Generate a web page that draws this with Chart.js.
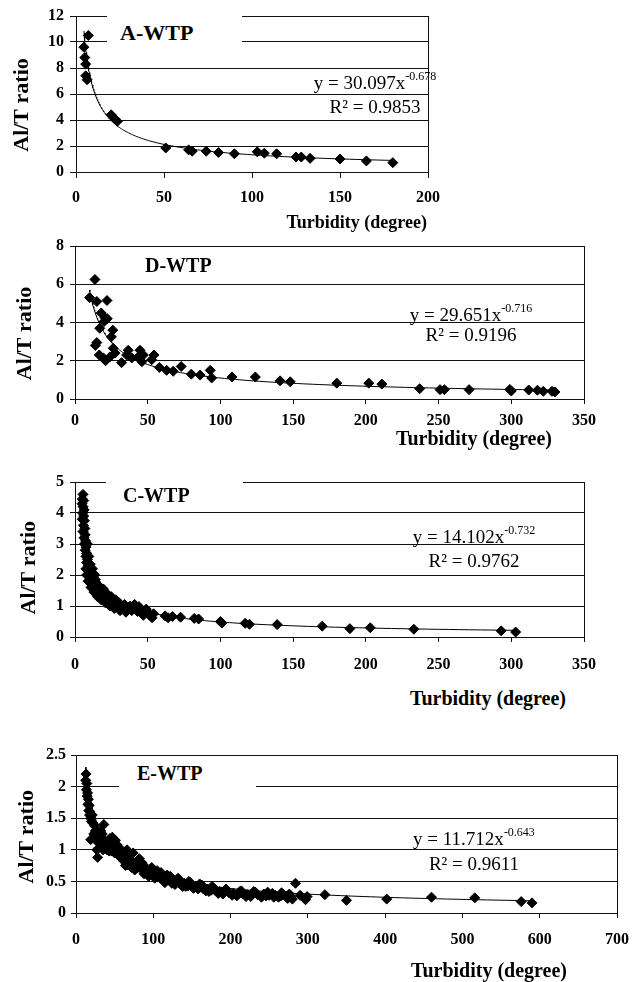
<!DOCTYPE html>
<html>
<head>
<meta charset="utf-8">
<script src="https://cdn.jsdelivr.net/npm/chart.js@4.4.1/dist/chart.umd.min.js"></script>
<style>
  html, body { margin: 0; padding: 0; background: #fff; }
  body { width: 641px; height: 982px; position: relative; overflow: hidden; color: #000; }
  canvas { position: absolute; left: 0; }
  .mask { position: absolute; background: #fff; }
  .note { position: absolute; white-space: nowrap; font-family: 'Liberation Serif', serif; }
  .note .sup { position: relative; top: -9px; font-size: 12px; }
</style>
</head>
<body>
<canvas id="chartA" width="641" height="215" style="top:0px"></canvas>
<canvas id="chartD" width="641" height="215" style="top:225px"></canvas>
<canvas id="chartC" width="641" height="225" style="top:460px"></canvas>
<canvas id="chartE" width="641" height="235" style="top:730px"></canvas>
<script>
// values
const plants = ['A-WTP', 'D-WTP', 'C-WTP', 'E-WTP'];
const fitCoef = [30.097, 29.651, 14.102, 11.712];
const fitExp = [-0.678, -0.716, -0.732, -0.643];
const rSquared = [0.9853, 0.9196, 0.9762, 0.9611];
const xMax = [200, 350, 350, 700];
const xStep = [50, 50, 50, 100];
const yMax = [12, 8, 5, 2.5];
const yStep = [2, 2, 1, 0.5];

const aTurbidity = [7, 4.5, 5, 5.5, 5.5, 6.3, 20, 22, 23.5, 51, 64, 66, 74, 81, 90, 103, 107, 114, 125, 128, 133, 150, 165, 180];
const aRatio = [10.5, 9.6, 8.8, 8.3, 7.4, 7.1, 4.4, 4.1, 3.9, 1.85, 1.7, 1.6, 1.6, 1.5, 1.4, 1.55, 1.45, 1.4, 1.15, 1.15, 1.05, 1.0, 0.85, 0.72];

const dTurbidity = [10, 13.7, 15, 22, 18, 20.6, 22.2, 20, 17, 26, 25, 15, 14, 16.7, 19.5, 21, 24, 26.3, 27.5, 32,
  36.6, 35.5, 39, 44.7, 47, 46, 43.5, 52.7, 54.3, 58, 63, 67.5, 73, 80, 86, 93, 94, 108, 124, 141,
  148, 180, 202, 211, 237, 251, 254, 271, 299, 300, 312, 318, 322, 328, 330];
const dRatio = [5.3, 6.25, 5.1, 5.15, 4.5, 4.25, 4.2, 4.05, 3.7, 3.6, 3.25, 2.95, 2.8, 2.3, 2.15, 2.0, 2.2, 2.65, 2.4, 1.9,
  2.55, 2.3, 2.15, 2.55, 2.3, 1.95, 2.2, 2.05, 2.3, 1.65, 1.5, 1.45, 1.7, 1.3, 1.25, 1.5, 1.1, 1.15, 1.15, 0.95,
  0.9, 0.83, 0.83, 0.78, 0.54, 0.49, 0.49, 0.49, 0.5, 0.42, 0.47, 0.46, 0.4, 0.4, 0.37];

const cTurbidity = [5.5, 5, 6, 4.8, 5.6, 6.3, 5.2, 6, 5, 6.5, 5.8, 6.8, 5.5, 7, 6.2, 7.3, 6.5, 7.6, 7, 8,
  7.5, 8.5, 8, 9.2, 8.8, 10, 9.5, 11, 10.5, 12, 11.5, 13.5, 13, 15, 14.5, 17, 16, 19, 18, 21,
  20, 23, 22.5, 25, 24.5, 27, 26, 29, 28.5, 31, 33, 32, 35, 36, 38, 40, 39, 42, 43, 45,
  46, 48, 50, 51, 52, 53,
  8, 12.5, 9, 14, 11, 16.5, 13, 19.5, 15.5, 22, 18, 25, 21, 28, 24, 30, 27, 34, 31, 37, 35, 41, 44, 47, 49, 54,
  8.5, 9.5, 10.5, 12, 13.5, 7.5,
  62, 64, 67, 72.6, 82, 85, 100, 101, 117, 120, 139, 170, 189, 203, 233, 293, 303];
const cRatio = [4.6, 4.45, 4.4, 4.3, 4.2, 4.1, 4.0, 3.9, 3.8, 3.75, 3.6, 3.5, 3.4, 3.3, 3.2, 3.1, 3.0, 2.9, 2.8, 2.7,
  2.6, 2.5, 2.4, 2.3, 2.2, 2.1, 2.0, 1.95, 1.85, 1.8, 1.7, 1.7, 1.6, 1.6, 1.5, 1.5, 1.42, 1.4, 1.32, 1.3,
  1.22, 1.25, 1.15, 1.18, 1.1, 1.12, 1.05, 1.05, 0.98, 1.0, 0.95, 0.9, 0.95, 0.88, 1.0, 0.92, 0.85, 0.95, 0.82, 0.88,
  0.75, 0.8, 0.78, 0.72, 0.68, 0.62,
  2.0, 2.05, 1.8, 1.85, 1.6, 1.65, 1.45, 1.55, 1.3, 1.4, 1.2, 1.3, 1.1, 1.2, 1.0, 1.12, 0.92, 1.05, 0.85, 0.95, 0.8, 1.05, 0.98, 0.7, 0.9, 0.75,
  3.0, 2.6, 2.35, 2.2, 2.0, 2.2,
  0.68, 0.62, 0.66, 0.64, 0.6, 0.58, 0.5, 0.45, 0.44, 0.41, 0.4, 0.35, 0.27, 0.3, 0.25, 0.2, 0.16];

const eTurbidity = [13, 12.5, 14, 13.5, 15, 14.5, 16, 15.5, 17, 16.5, 18, 17.5, 19, 20, 21, 22, 24, 19, 28, 27,
  23, 25, 26, 29, 30, 32, 34, 36, 37, 38, 40, 41, 43, 45, 47, 49, 50, 52, 54, 56,
  58, 60, 62, 65, 67, 70, 73, 75, 78, 80, 83, 86, 90, 93, 96, 100, 104, 108, 112, 116,
  120, 125, 130, 135, 140, 145, 150, 155, 160, 165, 170, 175, 180, 186, 192, 198, 204, 210, 216, 222,
  228, 235, 243, 250, 258, 265, 272, 278, 280, 284, 290, 297, 299, 322, 350, 402, 460, 516, 576, 590,
  63, 68, 72, 85, 88, 98, 102, 110, 115, 122, 128, 133, 142, 148, 158, 163, 172, 178, 190, 195,
  208, 212, 226, 232, 246, 254, 262, 268, 276, 44, 48, 51, 53, 46, 57, 59, 42, 35, 33,
  105, 110, 118, 124, 132, 138, 146, 152, 160, 168, 176, 184, 194, 202, 214, 220, 230, 240, 248, 256, 266, 274,
  64, 70, 76, 82, 88, 94, 66, 74];
const eRatio = [2.2, 2.1, 2.05, 1.95, 1.9, 1.85, 1.8, 1.72, 1.7, 1.62, 1.6, 1.55, 1.5, 1.45, 1.55, 1.42, 1.38, 1.16, 0.88, 1.0,
  1.25, 1.3, 1.15, 1.2, 1.1, 1.3, 1.25, 1.4, 1.15, 1.05, 1.0, 1.12, 0.98, 1.1, 1.2, 1.05, 0.95, 1.0, 0.92, 0.95,
  0.88, 0.85, 0.82, 0.88, 0.76, 0.8, 0.82, 0.75, 0.78, 0.72, 0.74, 0.68, 0.7, 0.64, 0.66, 0.6, 0.62, 0.56, 0.58, 0.52,
  0.54, 0.5, 0.5, 0.46, 0.47, 0.43, 0.44, 0.41, 0.41, 0.38, 0.38, 0.36, 0.36, 0.34, 0.33, 0.32, 0.31, 0.3, 0.3, 0.29,
  0.3, 0.29, 0.3, 0.28, 0.28, 0.27, 0.26, 0.26, 0.22, 0.47, 0.28, 0.21, 0.26, 0.29, 0.2, 0.22, 0.25, 0.24, 0.18, 0.16,
  0.95, 0.9, 0.72, 0.8, 0.62, 0.72, 0.55, 0.64, 0.48, 0.58, 0.45, 0.53, 0.42, 0.48, 0.38, 0.44, 0.34, 0.4, 0.3, 0.36,
  0.27, 0.34, 0.26, 0.33, 0.27, 0.31, 0.25, 0.3, 0.3, 1.18, 1.12, 1.15, 1.08, 0.98, 1.02, 0.95, 1.05, 1.0, 1.1,
  0.67, 0.55, 0.6, 0.47, 0.55, 0.42, 0.5, 0.39, 0.46, 0.35, 0.42, 0.31, 0.38, 0.28, 0.35, 0.26, 0.34, 0.25, 0.33, 0.25, 0.32, 0.23,
  0.75, 0.92, 0.68, 0.86, 0.75, 0.58, 1.0, 0.95];

const turbidity = [aTurbidity, dTurbidity, cTurbidity, eTurbidity];
const ratio = [aRatio, dRatio, cRatio, eRatio];

// page geometry of each panel (plot box, text spots)
const frames = [
  { canvas: 'chartA', top: 0, height: 215, left: 76, right: 428, plotTop: 16, plotBottom: 172,
    tick: 6, xPad: 10, yPad: 6, titlePad: 9, titleShift: 4,
    mask: [107, 9, 135, 39], label: [120, 40, 22], eq: [375, 89, 113], xTitle: [427, 228, 18] },
  { canvas: 'chartD', top: 225, height: 215, left: 75, right: 584, plotTop: 246, plotBottom: 399,
    tick: 5, xPad: 7, yPad: 6, titlePad: 12, titleShift: 4,
    mask: null, label: [145, 272, 20], eq: [471, 321, 341], xTitle: [552, 445, 20] },
  { canvas: 'chartC', top: 460, height: 225, left: 75, right: 584, plotTop: 482, plotBottom: 637,
    tick: 5, xPad: 13, yPad: 6, titlePad: 16, titleShift: 3,
    mask: [106, 476, 137, 28], label: [123, 502, 20], eq: [474, 543, 567], xTitle: [566, 705, 20] },
  { canvas: 'chartE', top: 730, height: 235, left: 76, right: 618, plotTop: 755, plotBottom: 913,
    tick: 5, xPad: 12, yPad: 5, titlePad: 14, titleShift: 1,
    mask: [119, 762, 137, 32], label: [137, 780, 20], eq: [474, 845, 870], xTitle: [567, 977, 20] },
];

Chart.defaults.font.family = "'Liberation Serif', serif";
Chart.defaults.color = '#000';

const lineColor = '#111';

function trendline(i) {
  const xs = turbidity[i];
  const lo = Math.min(...xs);
  const hi = Math.max(...xs);
  const pts = [];
  for (let k = 0; k <= 150; k++) {
    const x = lo * Math.pow(hi / lo, k / 150);
    pts.push({ x, y: fitCoef[i] * Math.pow(x, fitExp[i]) });
  }
  return pts;
}

function tickText(value) {
  return String(Number(value.toFixed(2)));
}

function drawPanel(i) {
  const f = frames[i];
  const points = turbidity[i].map((t, k) => ({ x: t, y: ratio[i][k] }));
  const tickFont = { size: 16, weight: 'bold' };

  return new Chart(document.getElementById(f.canvas), {
    type: 'scatter',
    data: {
      datasets: [
        {
          data: points,
          pointStyle: 'rectRot',
          pointRadius: 5,
          pointBorderWidth: 1,
          backgroundColor: '#000',
          borderColor: '#000',
        },
        {
          data: trendline(i),
          showLine: true,
          pointRadius: 0,
          borderColor: '#000',
          borderWidth: 1,
          fill: false,
        },
      ],
    },
    options: {
      responsive: false,
      animation: false,
      events: [],
      layout: { padding: { top: f.plotTop - f.top, right: 641 - f.right, left: 0, bottom: 0 } },
      plugins: { legend: { display: false }, tooltip: { enabled: false } },
      scales: {
        x: {
          type: 'linear',
          min: 0,
          max: xMax[i],
          afterFit: (scale) => { scale.height = f.top + f.height - f.plotBottom; },
          ticks: { stepSize: xStep[i], font: tickFont, color: '#000', padding: f.xPad, maxRotation: 0, callback: tickText },
          grid: {
            color: (ctx) => (ctx.tick && ctx.tick.value === xMax[i] ? lineColor : 'rgba(0,0,0,0)'),
            tickColor: lineColor,
            tickLength: f.tick,
          },
          border: { display: true, color: lineColor, width: 1 },
        },
        y: {
          type: 'linear',
          min: 0,
          max: yMax[i],
          afterFit: (scale) => { scale.width = f.left; },
          ticks: { stepSize: yStep[i], font: tickFont, color: '#000', padding: f.yPad, callback: tickText },
          grid: { color: lineColor, tickColor: lineColor, tickLength: f.tick },
          border: { display: true, color: lineColor, width: 1 },
          title: {
            display: true,
            text: 'Al/T ratio' + ' '.repeat(f.titleShift),
            font: { size: 22, weight: 'bold' },
            color: '#000',
            padding: { top: f.titlePad, bottom: 0 },
          },
        },
      },
    },
  });
}

function addNote(html, x, baseline, size, weight, align) {
  const el = document.createElement('div');
  el.className = 'note';
  el.innerHTML = html;
  el.style.fontSize = size + 'px';
  el.style.fontWeight = weight;
  el.style.lineHeight = '1';
  document.body.appendChild(el);
  const w = el.getBoundingClientRect().width;
  let left = x;
  if (align === 'right') left = x - w;
  if (align === 'center') left = x - w / 2;
  el.style.left = left + 'px';
  el.style.top = (baseline - 0.8375 * size) + 'px';
}

frames.forEach((f, i) => {
  drawPanel(i);

  if (f.mask) {
    const m = document.createElement('div');
    m.className = 'mask';
    m.style.left = f.mask[0] + 'px';
    m.style.top = f.mask[1] + 'px';
    m.style.width = f.mask[2] + 'px';
    m.style.height = f.mask[3] + 'px';
    document.body.appendChild(m);
  }

  addNote(plants[i], f.label[0], f.label[1], f.label[2], 'bold', 'left');
  addNote(`y = ${fitCoef[i].toFixed(3)}x<span class="sup">${fitExp[i].toFixed(3)}</span>`,
    f.eq[0], f.eq[1], 19, 'normal', 'center');
  addNote(`R² = ${rSquared[i].toFixed(4)}`, f.eq[0], f.eq[2], 19, 'normal', 'center');
  addNote('Turbidity (degree)', f.xTitle[0], f.xTitle[1], f.xTitle[2], 'bold', 'right');
});
</script>
</body>
</html>
